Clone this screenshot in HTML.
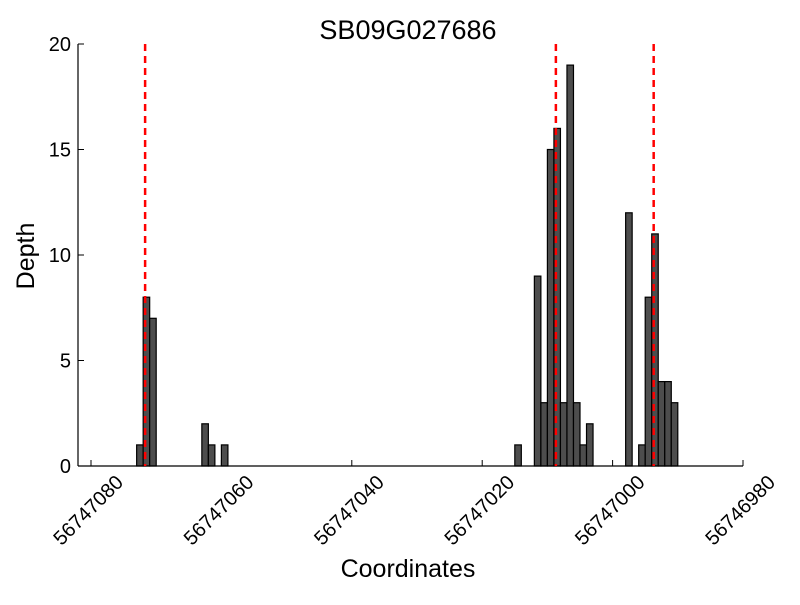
<!DOCTYPE html>
<html><head><meta charset="utf-8"><style>
body{margin:0;background:#fff;}
svg text{font-family:"Liberation Sans",sans-serif;}
</style></head><body>
<svg id="chart" width="800" height="600" xmlns="http://www.w3.org/2000/svg">
<rect width="800" height="600" fill="#fff"/>
<text x="408" y="39" font-size="27" text-anchor="middle">SB09G027686</text>
<text x="408" y="577" font-size="25" text-anchor="middle">Coordinates</text>
<text x="34" y="256" font-size="25" text-anchor="middle" transform="rotate(-90 34 256)">Depth</text>
<g id="bars"></g>
<g id="axes"></g>
<g id="marks"></g>
</svg>
<script>
const base = 56747000;
const positions = [73,72,71,63,62,60,15,12,11,10,9,8,7,6,5,4,-2,-4,-5,-6,-7,-8,-9];
const depths = [1,8,7,2,1,1,1,9,3,15,16,3,19,3,1,2,12,1,8,11,4,4,3];
const markers = [71.7,8.7,-6.3];
const xTicks = [56747080,56747060,56747040,56747020,56747000,56746980];
const yTicks = [0,5,10,15,20];
const NS='http://www.w3.org/2000/svg';
function X(c){return 91+(56747080-c)*6.52;}
function Y(v){return 466-v*21.1;}
function mk(t,a,p){const e=document.createElementNS(NS,t);for(const k in a)e.setAttribute(k,a[k]);p.appendChild(e);return e;}
const bars=document.getElementById('bars'),axes=document.getElementById('axes'),marks=document.getElementById('marks');
positions.forEach((p,i)=>{
  const x0=X(base+p),x1=X(base+p-1);
  const r=mk('rect',{x:x0,y:Y(depths[i]),width:x1-x0,height:Y(0)-Y(depths[i]),fill:'#4d4d4d',stroke:'#000','stroke-width':1.2},bars);
  
  
});
const l1=mk('line',{x1:78,y1:44,x2:78,y2:466,stroke:'#000','stroke-width':1.2},axes);


const l2=mk('line',{x1:78,y1:466,x2:743,y2:466,stroke:'#000','stroke-width':1.2},axes);


yTicks.forEach(v=>{
  mk('line',{x1:78,y1:Y(v),x2:84,y2:Y(v),stroke:'#000'},axes);
  const t=mk('text',{x:71,y:Y(v)+7,'font-size':20,'text-anchor':'end'},axes);
  t.textContent=v;
  
  
});
xTicks.forEach(v=>{
  const x=X(v);
  mk('line',{x1:x,y1:466,x2:x,y2:460,stroke:'#000'},axes);
  const cx=x-3,cy=510;
  const t=mk('text',{x:cx,y:cy+7,'font-size':20,'text-anchor':'middle',transform:`rotate(-45 ${cx} ${cy})`},axes);
  t.textContent=v;
  
  
});
markers.forEach(m=>{
  const l=mk('line',{x1:X(base+m),y1:44,x2:X(base+m),y2:466,stroke:'#ff0000','stroke-width':2.5,'stroke-dasharray':'7,5'},marks);
  
  
});
</script>
</body></html>
